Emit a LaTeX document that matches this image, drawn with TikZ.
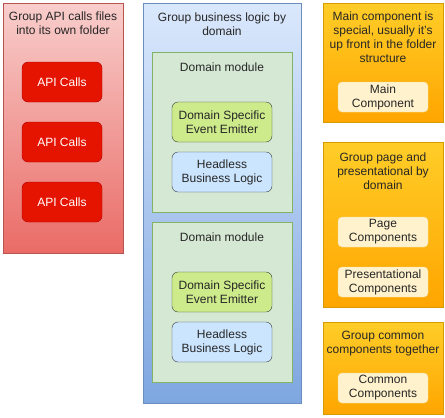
\documentclass[tikz,border=0pt]{standalone}
\usepackage{fontspec}
\setmainfont{Liberation Sans}
\usetikzlibrary{positioning}

\definecolor{redtop}{HTML}{F8CECC}
\definecolor{redbot}{HTML}{EA6B66}
\definecolor{redline}{HTML}{B85450}
\definecolor{apifill}{HTML}{E51400}
\definecolor{apiline}{HTML}{B20000}
\definecolor{bluetop}{HTML}{DAE8FC}
\definecolor{bluebot}{HTML}{7EA6E0}
\definecolor{blueline}{HTML}{6C8EBF}
\definecolor{modfill}{HTML}{D5E8D4}
\definecolor{modline}{HTML}{82B366}
\definecolor{evtfill}{HTML}{CDEB8B}
\definecolor{logicfill}{HTML}{CCE5FF}
\definecolor{boxline}{HTML}{36393D}
\definecolor{orangetop}{HTML}{FFCD28}
\definecolor{orangebot}{HTML}{FFA500}
\definecolor{orangeline}{HTML}{D79B00}
\definecolor{compfill}{HTML}{FFF2CC}
\definecolor{compline}{HTML}{F5DDA0}

\tikzset{
  panel/.style={anchor=north west, inner sep=0pt},
  title/.style={align=center, text=black!85, inner sep=0pt},
  apibox/.style={draw=apiline, fill=apifill, rounded corners=6pt, minimum width=80pt, minimum height=40pt, text=white},
  evtbox/.style={draw=boxline, fill=evtfill, rounded corners=6pt, minimum width=100pt, minimum height=40pt, align=center, text=black!85, inner sep=0pt},
  logicbox/.style={evtbox, fill=logicfill},
  compbox/.style={draw=compline, fill=compfill, rounded corners=4pt, minimum width=90pt, minimum height=30pt, align=center, text=black!85, inner sep=0pt},
}

\begin{document}
\begin{tikzpicture}[x=1pt, y=-1pt, font=\fontsize{12}{14}\selectfont]
    \useasboundingbox (0,0) rectangle (445,418);

    % API calls
    \node[panel, draw=redline, top color=redtop, bottom color=redbot, minimum width=120pt, minimum height=250pt] (apipanel) at (3,3) {};
    \node[title] (apititle) at (63,23) {Group API calls files\\into its own folder};
    \node[apibox] (api1) at (62,82) {API Calls};
    \node[apibox] (api2) at (62,142) {API Calls};
    \node[apibox] (api3) at (62,202) {API Calls};

    % Business logic
    \node[panel, draw=blueline, top color=bluetop, bottom color=bluebot, minimum width=158pt, minimum height=400pt] (logicpanel) at (143,3) {};
    \node[title] (logictitle) at (222,24) {Group business logic by\\domain};

    \node[panel, draw=modline, fill=modfill, minimum width=140pt, minimum height=160pt] (mod1) at (152,52) {};
    \node[title] (modtitle1) at (222,67) {Domain module};
    \node[evtbox] (evt1) at (222,122) {Domain Specific\\Event Emitter};
    \node[logicbox] (logic1) at (222,172) {Headless\\Business Logic};

    \node[panel, draw=modline, fill=modfill, minimum width=140pt, minimum height=160pt] (mod2) at (152,222) {};
    \node[title] (modtitle2) at (222,237) {Domain module};
    \node[evtbox] (evt2) at (222,292) {Domain Specific\\Event Emitter};
    \node[logicbox] (logic2) at (222,342) {Headless\\Business Logic};

    % Components
    \node[panel, draw=orangeline, top color=orangetop, bottom color=orangebot, minimum width=120pt, minimum height=119pt] (mainpanel) at (323,3) {};
    \node[title] (maintitle) at (383,37) {Main component is\\special, usually it's\\up front in the folder\\structure};
    \node[compbox] (main) at (383,97) {Main\\Component};

    \node[panel, draw=orangeline, top color=orangetop, bottom color=orangebot, minimum width=120pt, minimum height=165pt] (pagepanel) at (323,142) {};
    \node[title] (pagetitle) at (383,171) {Group page and\\presentational by\\domain};
    \node[compbox] (page) at (383,232) {Page\\Components};
    \node[compbox] (pres) at (383,282) {Presentational\\Components};

    \node[panel, draw=orangeline, top color=orangetop, bottom color=orangebot, minimum width=120pt, minimum height=92pt] (commonpanel) at (323,322) {};
    \node[title] (commontitle) at (383,344) {Group common\\components together};
    \node[compbox] (common) at (383,388) {Common\\Components};
\end{tikzpicture}
\end{document}
